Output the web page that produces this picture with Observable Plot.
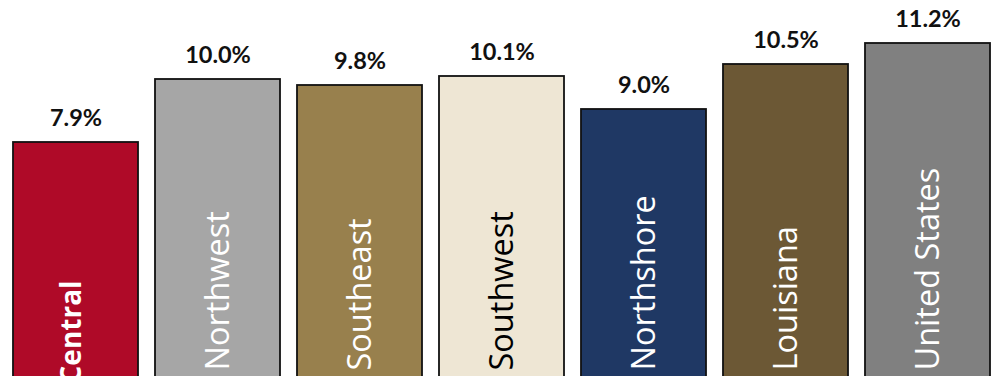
<!DOCTYPE html>
<html>
<head>
<meta charset="utf-8">
<script src="https://cdn.jsdelivr.net/npm/d3@7"></script>
<script src="https://cdn.jsdelivr.net/npm/@observablehq/plot@0.6"></script>
<style>
  html, body { margin: 0; padding: 0; background: #fff; overflow: hidden; }
  #chart svg { display: block; overflow: visible; }
</style>
</head>
<body>
<div id="chart"></div>
<script>
const regions = ["Central", "Northwest", "Southeast", "Southwest", "Northshore", "Louisiana", "United States"];
const rates = [7.9, 10.0, 9.8, 10.1, 9.0, 10.5, 11.2];
const barColors = ["#AF0A28", "#A6A6A6", "#98804D", "#EEE6D4", "#1F3864", "#6C5835", "#808080"];
const labelColors = ["#FFFFFF", "#FFFFFF", "#FFFFFF", "#000000", "#FFFFFF", "#FFFFFF", "#FFFFFF"];
const rateLabels = ["7.9%", "10.0%", "9.8%", "10.1%", "9.0%", "10.5%", "11.2%"];

const data = regions.map((region, i) => ({
  region,
  rate: rates[i],
  color: barColors[i],
  labelColor: labelColors[i],
  rateLabel: rateLabels[i]
}));

const chart = Plot.plot({
  width: 1000,
  height: 376,
  marginLeft: 11,
  marginRight: 9,
  marginTop: 0,
  marginBottom: 0,
  style: { background: "#fff", overflow: "visible" },
  x: { domain: regions, paddingInner: 0.1228, paddingOuter: 0, axis: null },
  y: { domain: [0, 12.4], range: [379, 7], axis: null },
  color: { type: "identity" },
  marks: [
    Plot.barY(data, {
      x: "region", y: "rate", fill: "color",
      stroke: "#111", strokeWidth: 1.8
    }),
    Plot.text(data, {
      x: "region", y: "rate", text: "rateLabel",
      lineAnchor: "bottom", dy: -17,
      fontFamily: "Lato, 'Open Sans', sans-serif", fontWeight: "bold",
      fontSize: 23.5, fill: "#111"
    }),
    Plot.text(data.filter(d => d.region !== "Central"), {
      x: "region", y: 0, text: "region",
      rotate: -90, textAnchor: "start", lineAnchor: "middle",
      dy: -9, dx: 1,
      fontFamily: "'Open Sans', sans-serif", fontSize: 32.5,
      fill: "labelColor"
    }),
    Plot.text(data.filter(d => d.region === "Central"), {
      x: "region", y: 0, text: "region",
      rotate: -90, textAnchor: "start", lineAnchor: "middle",
      dy: 4, dx: -4,
      fontFamily: "'Open Sans', sans-serif", fontSize: 28, fontWeight: "bold",
      fill: "labelColor"
    })
  ]
});

document.getElementById("chart").appendChild(chart);
</script>
</body>
</html>
